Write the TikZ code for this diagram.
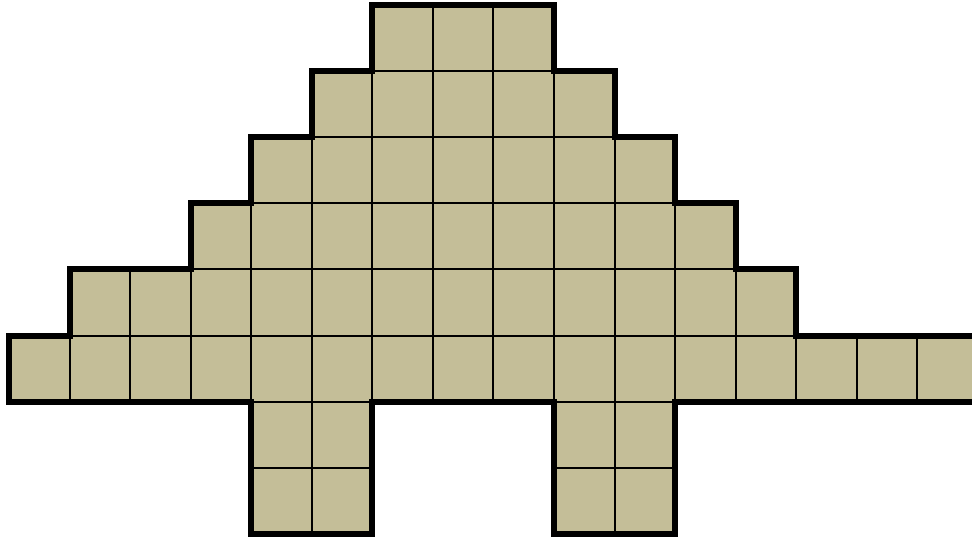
\documentclass[tikz,border=0pt]{standalone}
\usepackage{tikz}

\definecolor{dinotan}{RGB}{196,190,152}

\begin{document}
\begin{tikzpicture}[x=60.55pt, y=-66.1pt, line join=miter]
    \useasboundingbox (-0.1486,-0.0756) rectangle (15.904,8.0635);
    \clip (-0.1486,-0.0756) rectangle (15.904,8.0635);

    \def\dinoshape{(6,0) -- (9,0) -- (9,1) -- (10,1) -- (10,2) -- (11,2) -- (11,3)
        -- (12,3) -- (12,4) -- (13,4) -- (13,5) -- (16.5,5) -- (16.5,6) -- (11,6)
        -- (11,8) -- (9,8) -- (9,6) -- (6,6) -- (6,8) -- (4,8) -- (4,6) -- (0,6)
        -- (0,5) -- (1,5) -- (1,4) -- (3,4) -- (3,3) -- (4,3) -- (4,2) -- (5,2)
        -- (5,1) -- (6,1) -- cycle}

    \fill[dinotan] \dinoshape;

    \begin{scope}
        \clip \dinoshape;
        \foreach \c in {1,...,15}
            \draw[line width=2pt] (\c,0) -- (\c,8);
        \foreach \r in {1,...,7}
            \draw[line width=2pt] (0,\r) -- (16.5,\r);
    \end{scope}

    \draw[line width=6pt] \dinoshape;
\end{tikzpicture}
\end{document}
